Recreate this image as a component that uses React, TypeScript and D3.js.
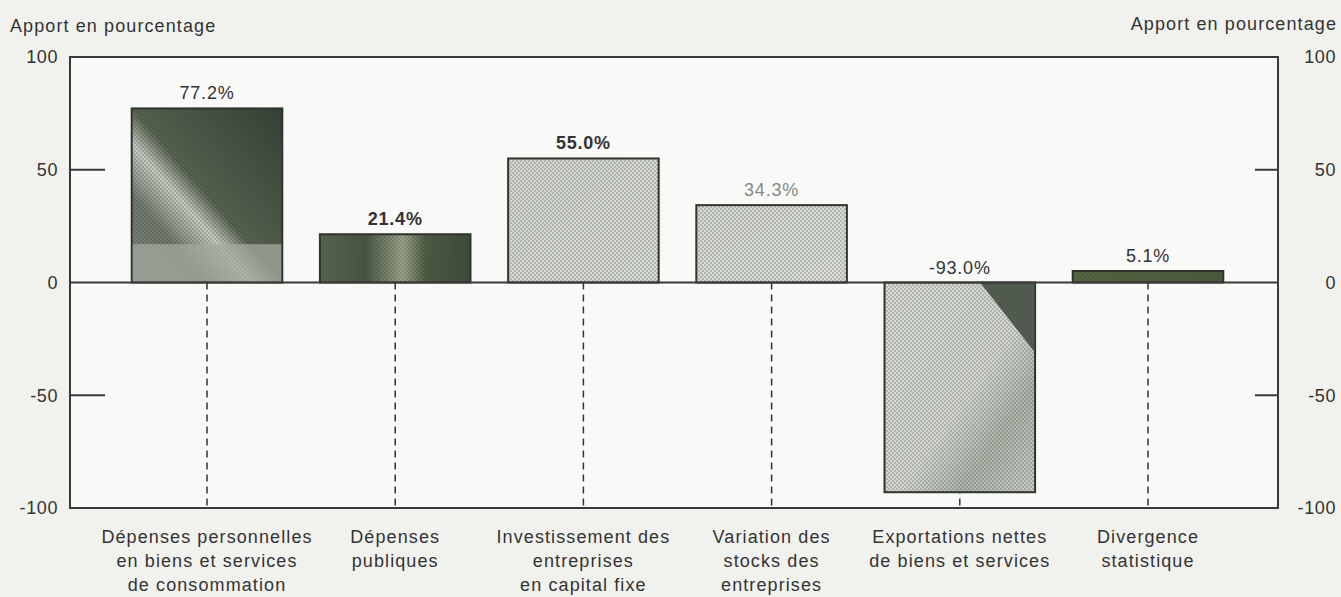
import React, { useRef, useEffect } from 'react';
import * as d3 from 'd3';

const categories = [
  ['Dépenses personnelles', 'en biens et services', 'de consommation'],
  ['Dépenses', 'publiques'],
  ['Investissement des', 'entreprises', 'en capital fixe'],
  ['Variation des', 'stocks des', 'entreprises'],
  ['Exportations nettes', 'de biens et services'],
  ['Divergence', 'statistique'],
];
const values = [77.2, 21.4, 55.0, 34.3, -93.0, 5.1];
const valueLabels = ['77.2%', '21.4%', '55.0%', '34.3%', '-93.0%', '5.1%'];
const yTicks = [100, 50, 0, -50, -100];
const axisTitle = 'Apport en pourcentage';

// gradient stops per bar, rough imitation of the scanned texture
const barGradients = [
  { dir: [0, 1, 1, 0], stops: [[0, '#7d857a'], [0.25, '#6f786c'], [0.4, '#c9cdc4'], [0.5, '#56624f'], [1, '#344034']] },
  { dir: [0, 0, 1, 0], stops: [[0, '#59674f'], [0.3, '#485440'], [0.55, '#9aa58c'], [0.7, '#4f5c44'], [1, '#3f4b39']] },
  { dir: [0, 0, 1, 1], stops: [[0, '#d2d5ce'], [1, '#d9dbd6']] },
  { dir: [0, 0, 1, 1], stops: [[0, '#d5d8d2'], [1, '#dcded9']] },
  { dir: [0, 0, 1, 1], stops: [[0, '#d8dbd5'], [0.55, '#d3d6d0'], [0.75, '#aeb4aa'], [1, '#c9cdc6']] },
  { dir: [0, 0, 1, 0], stops: [[0, '#56663f'], [1, '#4c5a3a']] },
];

function App() {
  const ref = useRef<SVGSVGElement>(null);

  useEffect(() => {
    const width = 1341;
    const height = 597;
    const left = 70;
    const right = 1278;
    const svg = d3.select(ref.current);
    svg.selectAll('*').remove();

    const y = d3.scaleLinear().domain([-100, 100]).range([508, 57]);
    const x = d3.scalePoint<number>().domain(d3.range(values.length)).range([207, 1148]);
    const barW = x.step() * 0.8;
    const font = '"Liberation Sans", Arial, sans-serif';

    svg.append('rect').attr('width', width).attr('height', height).attr('fill', '#f1f2ee');
    svg.append('rect').attr('x', left).attr('y', y(100)).attr('width', right - left)
      .attr('height', y(-100) - y(100)).attr('fill', '#f9f9f7');

    const defs = svg.append('defs');
    const pat = defs.append('pattern').attr('id', 'dots').attr('width', 4).attr('height', 4)
      .attr('patternUnits', 'userSpaceOnUse');
    pat.append('circle').attr('cx', 1).attr('cy', 1).attr('r', 0.8).attr('fill', '#3a3f38').attr('opacity', 0.55);
    pat.append('circle').attr('cx', 3).attr('cy', 3).attr('r', 0.8).attr('fill', '#3a3f38').attr('opacity', 0.55);

    barGradients.forEach((g, i) => {
      const lg = defs.append('linearGradient').attr('id', 'grad' + i)
        .attr('x1', g.dir[0]).attr('y1', g.dir[1]).attr('x2', g.dir[2]).attr('y2', g.dir[3]);
      g.stops.forEach(s => lg.append('stop').attr('offset', s[0] as number).attr('stop-color', s[1] as string));
    });

    // dashed category lines
    svg.append('g').selectAll('line').data(values).enter().append('line')
      .attr('x1', (d, i) => x(i)!).attr('x2', (d, i) => x(i)!)
      .attr('y1', y(0)).attr('y2', y(-100))
      .attr('stroke', '#333').attr('stroke-width', 1.5).attr('stroke-dasharray', '7,5');

    const bars = svg.append('g');
    bars.selectAll('rect.fill').data(values).enter().append('rect')
      .attr('x', (d, i) => x(i)! - barW / 2)
      .attr('y', d => y(Math.max(0, d)))
      .attr('width', barW)
      .attr('height', d => Math.abs(y(d) - y(0)))
      .attr('fill', (d, i) => `url(#grad${i})`)
      .attr('stroke', '#2e332d').attr('stroke-width', 2);

    // lighter lower band on the first bar
    svg.append('rect')
      .attr('x', x(0)! - barW / 2 + 1).attr('y', y(17)).attr('width', barW - 2).attr('height', y(0) - y(17) - 1)
      .attr('fill', '#a4aa9f').attr('opacity', 0.75);

    bars.selectAll('rect.dots').data(values).enter().append('rect')
      .attr('x', (d, i) => x(i)! - barW / 2)
      .attr('y', d => y(Math.max(0, d)))
      .attr('width', barW)
      .attr('height', d => Math.abs(y(d) - y(0)))
      .attr('fill', 'url(#dots)');

    // dark corner on the exports bar
    const i5 = 4;
    svg.append('path')
      .attr('d', `M${x(i5)! + barW / 2 - 55},${y(0)} L${x(i5)! + barW / 2},${y(0)} L${x(i5)! + barW / 2},${y(0) + 70} Z`)
      .attr('fill', '#3d483c').attr('opacity', 0.85);

    // value labels
    svg.append('g').selectAll('text').data(values).enter().append('text')
      .attr('x', (d, i) => x(i)!)
      .attr('y', d => y(Math.max(0, d)) - 9)
      .attr('text-anchor', 'middle')
      .attr('font-family', font).attr('font-size', 18).attr('letter-spacing', 0.8)
      .attr('fill', (d, i) => (i === 3 ? '#888' : '#333'))
      .attr('font-weight', (d, i) => (i === 1 || i === 2 ? 'bold' : 'normal'))
      .text((d, i) => valueLabels[i]);

    // frame and zero line
    const frame = svg.append('g').attr('stroke', '#3a3a3a').attr('stroke-width', 2).attr('fill', 'none');
    frame.append('rect').attr('x', left).attr('y', y(100)).attr('width', right - left).attr('height', y(-100) - y(100));
    frame.append('line').attr('x1', left).attr('x2', right).attr('y1', y(0)).attr('y2', y(0));
    yTicks.filter(t => Math.abs(t) === 50).forEach(t => {
      frame.append('line').attr('x1', left).attr('x2', left + 35).attr('y1', y(t)).attr('y2', y(t));
      frame.append('line').attr('x1', right - 23).attr('x2', right).attr('y1', y(t)).attr('y2', y(t));
    });

    // y tick labels both sides
    const tl = svg.append('g').attr('font-family', font).attr('font-size', 18).attr('fill', '#333')
      .attr('letter-spacing', 0.6);
    yTicks.forEach(t => {
      tl.append('text').attr('x', 58).attr('y', y(t)).attr('dy', '0.35em').attr('text-anchor', 'end').text(t);
      tl.append('text').attr('x', 1336).attr('y', y(t)).attr('dy', '0.35em').attr('text-anchor', 'end').text(t);
    });

    const tt = svg.append('g').attr('font-family', font).attr('font-size', 18).attr('fill', '#333')
      .attr('letter-spacing', 1.1);
    tt.append('text').attr('x', 10).attr('y', 32).text(axisTitle);
    tt.append('text').attr('x', 1337).attr('y', 30).attr('text-anchor', 'end').text(axisTitle);

    // category labels
    const cl = svg.append('g').attr('font-family', font).attr('font-size', 18).attr('fill', '#333')
      .attr('letter-spacing', 1.1);
    categories.forEach((lines, i) => {
      lines.forEach((l, j) => {
        cl.append('text').attr('x', x(i)!).attr('y', 543 + j * 24).attr('text-anchor', 'middle').text(l);
      });
    });
  }, []);

  return (
    <svg ref={ref} width={1341} height={597} style={{ position: 'absolute', left: 0, top: 0 }} />
  );
}

export default App;
